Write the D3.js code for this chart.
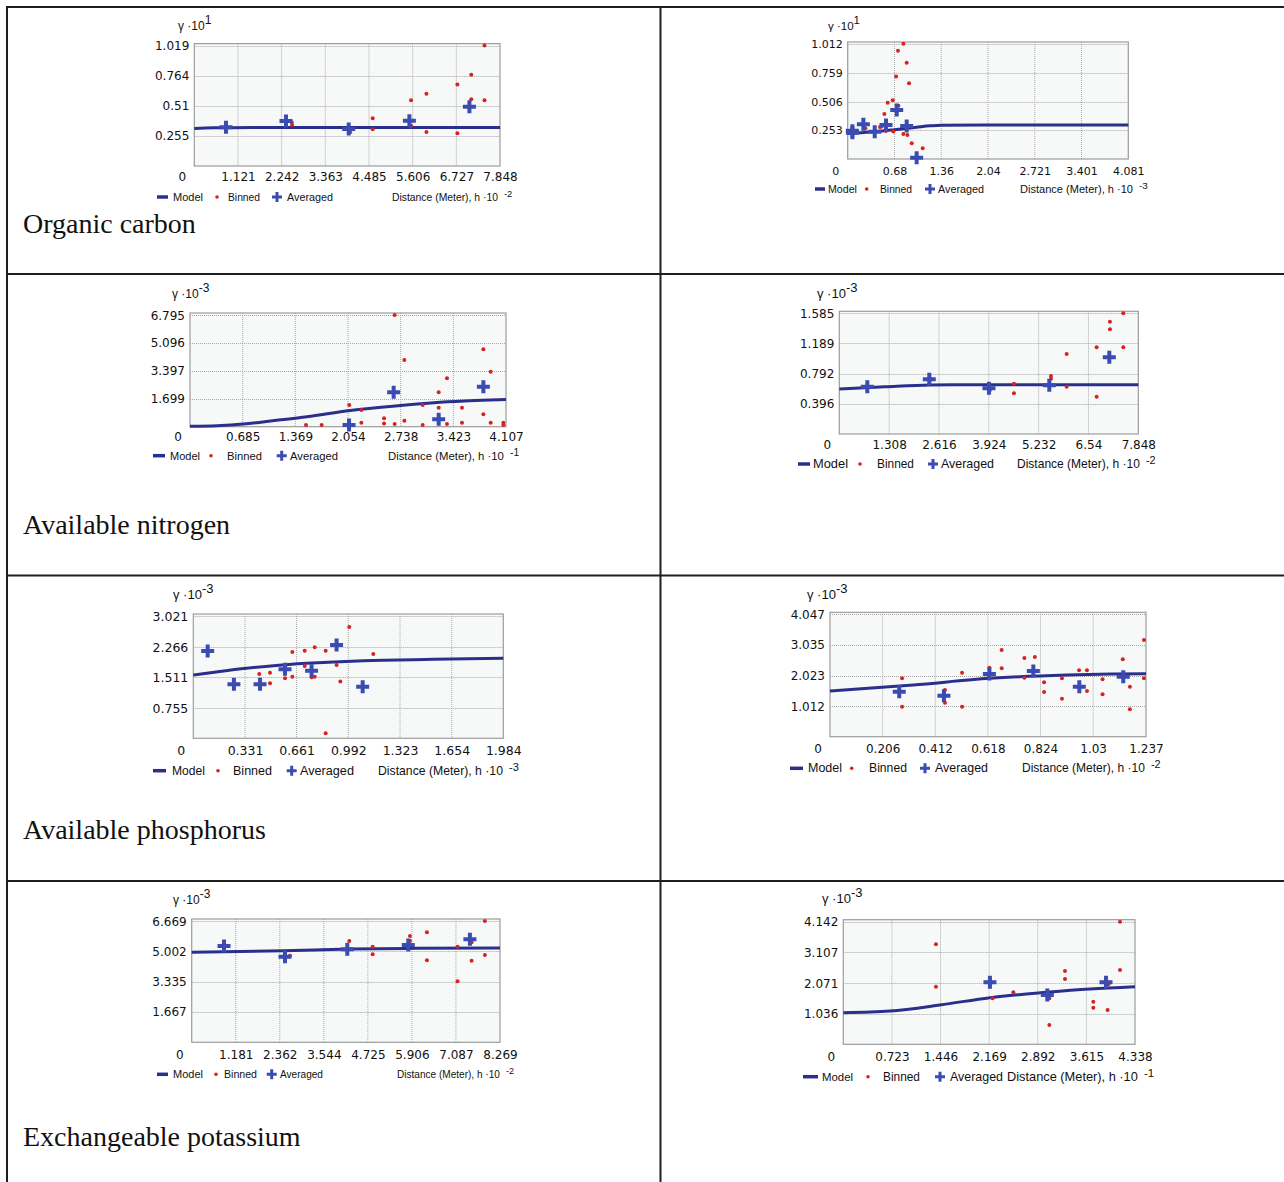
<!DOCTYPE html>
<html><head><meta charset="utf-8">
<script src="https://cdn.jsdelivr.net/npm/d3@7"></script>
<style>
html,body{margin:0;padding:0;background:#fff;}
svg{display:block;}
</style></head>
<body>
<svg id="fig" width="1284" height="1182"></svg>
<script>
// ---------- DATA ----------
const titles = ["Organic carbon", "Available nitrogen", "Available phosphorus", "Exchangeable potassium"];

// Organic carbon (left)
const ocL_xTicks = [1.121, 2.242, 3.363, 4.485, 5.606, 6.727, 7.848];
const ocL_yTicks = [0.255, 0.51, 0.764, 1.019];
const ocL_exp = {y: "1", x: "-2"};
const ocL_model = [[0,0.318],[0.5,0.324],[1.5,0.325],[7.848,0.325]];
const ocL_binned = [[2.51,0.347],[2.5,0.37],[4.0,0.285],[4.58,0.404],[4.58,0.31],[5.565,0.556],[5.565,0.341],[5.96,0.612],[5.96,0.288],[6.755,0.689],[6.755,0.277],[7.11,0.773],[7.11,0.564],[7.45,1.019],[7.45,0.556]];
const ocL_avg = [[0.813,0.327],[2.354,0.381],[3.964,0.313],[5.522,0.384],[7.063,0.502]];

// Organic carbon (right)
const ocR_xTicks = [0.68, 1.36, 2.04, 2.721, 3.401, 4.081];
const ocR_yTicks = [0.253, 0.506, 0.759, 1.012];
const ocR_exp = {y: "1", x: "-3"};
const ocR_model = [[0,0.225],[0.34,0.238],[0.68,0.258],[1.0,0.279],[1.2,0.292],[1.36,0.298],[2.0,0.299],[4.081,0.299]];
const ocR_binned = [[0.257,0.27],[0.47,0.282],[0.494,0.285],[0.533,0.396],[0.557,0.246],[0.582,0.496],[0.655,0.516],[0.664,0.241],[0.703,0.725],[0.732,0.953],[0.737,0.469],[0.81,1.015],[0.81,0.22],[0.858,0.848],[0.868,0.211],[0.892,0.666],[0.931,0.138],[1.091,0.094]];
const ocR_avg = [[0.068,0.249],[0.068,0.232],[0.228,0.305],[0.393,0.24],[0.557,0.299],[0.713,0.431],[0.858,0.29],[1.003,0.012]];

// Available nitrogen (left)
const anL_xTicks = [0.685, 1.369, 2.054, 2.738, 3.423, 4.107];
const anL_yTicks = [1.699, 3.397, 5.096, 6.795];
const anL_exp = {y: "-3", x: "-1"};
const anL_model = [[0,0.02],[0.35,0.06],[0.69,0.16],[1.1,0.38],[1.52,0.61],[2.08,0.98],[2.67,1.26],[3.25,1.48],[3.7,1.59],[4.107,1.66]];
const anL_binned = [[1.508,0.1],[1.711,0.1],[2.07,1.318],[2.227,1.014],[2.227,0.243],[2.522,0.507],[2.522,0.2],[2.66,6.795],[2.66,0.16],[2.786,4.057],[2.786,0.365],[3.024,1.318],[3.024,0.1],[3.232,2.09],[3.232,1.156],[3.34,2.94],[3.34,0.16],[3.535,1.156],[3.535,0.243],[3.813,4.706],[3.813,0.75],[3.908,3.347],[3.908,0.243],[4.073,0.243],[4.073,0.1]];
const anL_avg = [[2.067,0.1],[2.647,2.09],[3.232,0.446],[3.813,2.434]];

// Available nitrogen (right)
const anR_xTicks = [1.308, 2.616, 3.924, 5.232, 6.54, 7.848];
const anR_yTicks = [0.396, 0.792, 1.189, 1.585];
const anR_exp = {y: "-3", x: "-2"};
const anR_model = [[0,0.591],[1.2,0.62],[2.38,0.644],[3.0,0.647],[7.848,0.648]];
const anR_binned = [[2.42,0.718],[3.955,0.578],[4.584,0.661],[4.584,0.534],[5.556,0.762],[5.556,0.727],[5.967,1.051],[5.967,0.622],[6.754,1.138],[6.754,0.49],[7.104,1.475],[7.104,1.375],[7.454,1.585],[7.454,1.138]];
const anR_avg = [[0.735,0.622],[2.362,0.718],[3.928,0.6],[5.512,0.639],[7.087,1.007]];

// Available phosphorus (left)
const apL_xTicks = [0.331, 0.661, 0.992, 1.323, 1.654, 1.984];
const apL_yTicks = [0.755, 1.511, 2.266, 3.021];
const apL_exp = {y: "-3", x: "-3"};
const apL_model = [[0,1.564],[0.17,1.65],[0.34,1.728],[0.53,1.8],[0.725,1.852],[1.088,1.918],[1.536,1.95],[1.984,1.975]];
const apL_binned = [[0.422,1.588],[0.491,1.621],[0.491,1.358],[0.587,1.481],[0.634,2.132],[0.634,1.523],[0.713,2.165],[0.713,1.786],[0.757,1.506],[0.777,2.247],[0.777,1.523],[0.847,2.165],[0.847,0.123],[0.917,1.81],[0.941,1.4],[0.998,2.749],[1.152,2.082]];
const apL_avg = [[0.092,2.156],[0.26,1.333],[0.427,1.333],[0.587,1.704],[0.757,1.671],[0.917,2.305],[1.084,1.276]];

// Available phosphorus (right)
const apR_xTicks = [0.206, 0.412, 0.618, 0.824, 1.03, 1.237];
const apR_yTicks = [1.012, 2.023, 3.035, 4.047];
const apR_exp = {y: "-3", x: "-2"};
const apR_model = [[0,1.51],[0.326,1.709],[0.626,1.929],[0.926,2.04],[1.1,2.07],[1.237,2.084]];
const apR_binned = [[0.282,1.929],[0.282,0.992],[0.45,1.543],[0.45,1.125],[0.517,2.117],[0.517,0.992],[0.624,2.282],[0.672,2.867],[0.672,2.26],[0.761,2.602],[0.761,1.952],[0.802,2.635],[0.838,1.797],[0.838,1.477],[0.908,1.929],[0.908,1.257],[0.975,2.194],[1.006,1.51],[1.006,2.194],[1.067,1.896],[1.067,1.4],[1.146,2.558],[1.174,1.654],[1.174,0.904],[1.229,3.197],[1.229,1.929]];
const apR_avg = [[0.271,1.488],[0.446,1.356],[0.624,2.073],[0.796,2.172],[0.976,1.654],[1.148,1.985]];

// Exchangeable potassium (left)
const ekL_xTicks = [1.181, 2.362, 3.544, 4.725, 5.906, 7.087, 8.269];
const ekL_yTicks = [1.667, 3.335, 5.002, 6.669];
const ekL_exp = {y: "-3", x: "-2"};
const ekL_model = [[0,4.945],[2.458,5.037],[4.245,5.128],[6.0,5.165],[8.269,5.183]];
const ekL_binned = [[2.636,4.762],[4.227,5.568],[4.853,5.256],[4.853,4.835],[5.854,5.842],[5.854,5.568],[6.309,6.044],[6.309,4.505],[7.131,5.256],[7.131,3.352],[7.507,5.495],[7.507,4.487],[7.864,6.667],[7.864,4.799]];
const ekL_avg = [[0.867,5.293],[2.502,4.707],[4.173,5.11],[5.809,5.348],[7.462,5.659]];

// Exchangeable potassium (right)
const ekR_xTicks = [0.723, 1.446, 2.169, 2.892, 3.615, 4.338];
const ekR_yTicks = [1.036, 2.071, 3.107, 4.142];
const ekR_exp = {y: "-3", x: "-1"};
const ekR_model = [[0,1.069],[0.694,1.125],[1.438,1.328],[2.181,1.576],[3.024,1.756],[3.669,1.868],[4.338,1.947]];
const ekR_binned = [[1.378,3.376],[1.378,1.947],[2.221,1.553],[2.529,1.756],[3.064,1.553],[3.064,0.653],[3.297,2.476],[3.297,2.206],[3.718,1.441],[3.718,1.238],[3.931,1.159],[3.941,2.026],[4.115,4.142],[4.115,2.51]];
const ekR_avg = [[2.181,2.093],[3.034,1.666],[3.907,2.093]];

const legendLabels = ["Model", "Binned", "Averaged", "Distance (Meter), h ·10"];

// ---------- LAYOUT (pixel geometry per panel) ----------
const layouts = [
 {L:194.3,R:500,B:166,T:45.6,tickY:177,tfs:12,legY:197,lfs:12,yl:[178,30],
  leg:{line:157,model:[173,30],dot:217,binned:[228,32],plus:277,avg:[287,46],dist:[392,498],lw:11}},
 {L:847.7,R:1128.3,B:159,T:44,tickY:171,tfs:11,legY:189,lfs:11.5,yl:[828,30],
  leg:{line:815,model:[828,29],dot:866.7,binned:[880,32],plus:930,avg:[938,46],dist:[1020,1133],lw:10}},
 {L:190,R:506,B:426.7,T:315,tickY:436.5,tfs:12,legY:455.7,lfs:12,yl:[172,298],
  leg:{line:153,model:[170,30],dot:211,binned:[227,35],plus:281.7,avg:[290,48],dist:[388,504],lw:12}},
 {L:839.3,R:1138.3,B:434,T:313.3,tickY:444.7,tfs:12,legY:464,lfs:13,yl:[817,298],
  leg:{line:798,model:[813,35],dot:860,binned:[877,37],plus:933,avg:[941,53],dist:[1017,1140],lw:12}},
 {L:193.3,R:503.3,B:738.3,T:616,tickY:750.7,tfs:12.5,legY:770.7,lfs:13,yl:[173,599],
  leg:{line:153,model:[172,33],dot:218,binned:[233,39],plus:291.7,avg:[300,54],dist:[378,503],lw:13}},
 {L:830,R:1146,B:736.7,T:614.3,tickY:748.5,tfs:12,legY:768.3,lfs:13,yl:[807,599],
  leg:{line:790,model:[808,34],dot:851.7,binned:[869,38],plus:925,avg:[935,53],dist:[1022,1145],lw:13}},
 {L:191.7,R:500,B:1042.3,T:921,tickY:1054.7,tfs:12,legY:1074.3,lfs:12,yl:[173,904],
  leg:{line:157,model:[173,30],dot:216,binned:[224,33],plus:271.7,avg:[280,43],dist:[397,500],lw:11}},
 {L:843.3,R:1135,B:1044.3,T:921.7,tickY:1056.7,tfs:12,legY:1076.7,lfs:13,yl:[822,903],
  leg:{line:803,model:[822,31],dot:868,binned:[883,37],plus:940,avg:[950,53],dist:[1007,1138],lw:15}}
];

const panelData = [
 {xt:ocL_xTicks,yt:ocL_yTicks,exp:ocL_exp,model:ocL_model,binned:ocL_binned,avg:ocL_avg},
 {xt:ocR_xTicks,yt:ocR_yTicks,exp:ocR_exp,model:ocR_model,binned:ocR_binned,avg:ocR_avg},
 {xt:anL_xTicks,yt:anL_yTicks,exp:anL_exp,model:anL_model,binned:anL_binned,avg:anL_avg},
 {xt:anR_xTicks,yt:anR_yTicks,exp:anR_exp,model:anR_model,binned:anR_binned,avg:anR_avg},
 {xt:apL_xTicks,yt:apL_yTicks,exp:apL_exp,model:apL_model,binned:apL_binned,avg:apL_avg},
 {xt:apR_xTicks,yt:apR_yTicks,exp:apR_exp,model:apR_model,binned:apR_binned,avg:apR_avg},
 {xt:ekL_xTicks,yt:ekL_yTicks,exp:ekL_exp,model:ekL_model,binned:ekL_binned,avg:ekL_avg},
 {xt:ekR_xTicks,yt:ekR_yTicks,exp:ekR_exp,model:ekR_model,binned:ekR_binned,avg:ekR_avg}
];

// ---------- STYLE ----------
const C = {model:"#2b2f8c", avg:"#3a4cb2", binned:"#d62222", frame:"#9c9c9c", grid:"#a8a8a8", bg:"#f7f9f8", text:"#111"};
const tickFont = "'DejaVu Sans', sans-serif";
const legFont = "'Liberation Sans', Arial, sans-serif";

const svg = d3.select("#fig");

// fit a text's natural width to a target width by adjusting its font size
function fitWidth(sel, fs, width) {
  sel.attr("font-size", fs);
  const w = sel.node().getComputedTextLength();
  if (w > 0) sel.attr("font-size", (fs * width / w).toFixed(2));
  return sel;
}

// ---------- TABLE ----------
const tbl = svg.append("g").attr("stroke","#1e1e1e").attr("stroke-width",2);
tbl.append("line").attr("x1",6).attr("x2",1284).attr("y1",7).attr("y2",7);
tbl.append("line").attr("x1",7).attr("x2",7).attr("y1",6).attr("y2",1182);
tbl.append("line").attr("x1",660.5).attr("x2",660.5).attr("y1",6).attr("y2",1182);
[274, 575.5, 881].forEach(y => tbl.append("line").attr("x1",6).attr("x2",1284).attr("y1",y).attr("y2",y));

const titleY = [233, 534, 839, 1146];
titles.forEach((t,i) => svg.append("text").attr("x",23).attr("y",titleY[i])
  .attr("font-family","'Liberation Serif','Times New Roman',serif").attr("font-size",28)
  .attr("fill","#111").text(t));

// ---------- PANELS ----------
panelData.forEach((d,i) => {
  const g = layouts[i];
  const x = d3.scaleLinear().domain([0, d.xt[d.xt.length-1]]).range([g.L, g.R]);
  const y = d3.scaleLinear().domain([0, d.yt[d.yt.length-1]]).range([g.B, g.T]);
  const top = g.T - 2;
  const p = svg.append("g");

  p.append("rect").attr("x",g.L).attr("y",top).attr("width",g.R-g.L).attr("height",g.B-top)
    .attr("fill",C.bg).attr("stroke","none");

  // grid lines
  p.append("g").selectAll("line").data(d.xt.slice(0,-1)).join("line")
    .attr("x1",v=>x(v)).attr("x2",v=>x(v)).attr("y1",top).attr("y2",g.B)
    .attr("stroke",C.grid).attr("stroke-width",1).attr("stroke-dasharray","1,1");
  p.append("g").selectAll("line").data(d.yt).join("line")
    .attr("x1",g.L).attr("x2",g.R).attr("y1",v=>Math.round(y(v))+0.5).attr("y2",v=>Math.round(y(v))+0.5)
    .attr("stroke",C.grid).attr("stroke-width",1).attr("stroke-dasharray","1,1");

  p.append("rect").attr("x",g.L).attr("y",top).attr("width",g.R-g.L).attr("height",g.B-top)
    .attr("fill","none").attr("stroke",C.frame).attr("stroke-width",1.2);

  // axes (labels only, as in the original software)
  const xAxis = d3.axisBottom(x).tickValues(d.xt).tickSize(0).tickFormat(v=>String(v));
  const xa = p.append("g").attr("transform",`translate(0,${g.tickY})`).call(xAxis);
  xa.select(".domain").remove();
  xa.selectAll("text").attr("dy",0).attr("y",0).attr("dominant-baseline","central")
    .attr("font-family",tickFont).attr("font-size",g.tfs).attr("fill",C.text);
  const yAxis = d3.axisLeft(y).tickValues(d.yt).tickSize(0).tickPadding(5).tickFormat(v=>String(v));
  const ya = p.append("g").attr("transform",`translate(${g.L},0)`).call(yAxis);
  ya.select(".domain").remove();
  ya.selectAll("text").attr("dy",0).attr("dominant-baseline","central")
    .attr("font-family",tickFont).attr("font-size",g.tfs).attr("fill",C.text);
  p.append("text").attr("x",g.L-12).attr("y",g.tickY).attr("dominant-baseline","central")
    .attr("text-anchor","middle").attr("font-family",tickFont).attr("font-size",g.tfs).attr("fill",C.text).text("0");

  // y label
  const yl = p.append("text").attr("x",g.yl[0]).attr("y",g.yl[1])
    .attr("font-family",legFont).attr("font-size",g.lfs).attr("fill",C.text);
  yl.append("tspan").text("γ ·10");
  yl.append("tspan").attr("dy",-6).attr("font-size",g.lfs).text(d.exp.y);

  // model
  const line = d3.line().x(v=>x(v[0])).y(v=>y(v[1])).curve(d3.curveMonotoneX);
  p.append("path").datum(d.model).attr("d",line).attr("fill","none")
    .attr("stroke",C.model).attr("stroke-width",3);

  // binned
  p.append("g").selectAll("circle").data(d.binned).join("circle")
    .attr("cx",v=>x(v[0])).attr("cy",v=>y(v[1])).attr("r",2).attr("fill",C.binned);

  // averaged
  const s = 6.5;
  p.append("g").selectAll("path").data(d.avg).join("path")
    .attr("d",v=>`M${x(v[0])-s},${y(v[1])}H${x(v[0])+s}M${x(v[0])},${y(v[1])-s}V${y(v[1])+s}`)
    .attr("stroke",C.avg).attr("stroke-width",4).attr("fill","none");

  // legend
  const lg = g.leg, ly = g.legY;
  p.append("line").attr("x1",lg.line).attr("x2",lg.line+lg.lw).attr("y1",ly).attr("y2",ly)
    .attr("stroke",C.model).attr("stroke-width",3.5);
  const lt = (pos, txt) => fitWidth(p.append("text").attr("x",pos[0]).attr("y",ly+4)
    .attr("font-family",legFont).attr("fill",C.text).text(txt), g.lfs, pos[1]);
  lt(lg.model, legendLabels[0]);
  p.append("circle").attr("cx",lg.dot).attr("cy",ly).attr("r",1.8).attr("fill",C.binned);
  lt(lg.binned, legendLabels[1]);
  const ps = 5;
  p.append("path").attr("d",`M${lg.plus-ps},${ly}H${lg.plus+ps}M${lg.plus},${ly-ps}V${ly+ps}`)
    .attr("stroke",C.avg).attr("stroke-width",3).attr("fill","none");
  lt(lg.avg, legendLabels[2]);
  const dt = lt([lg.dist[0], lg.dist[1]-lg.dist[0]], legendLabels[3]);
  const dfs = +dt.attr("font-size");
  p.append("text").attr("x",lg.dist[1]+6).attr("y",ly).attr("font-family",legFont)
    .attr("font-size",(dfs*0.9).toFixed(2)).attr("fill",C.text).text(d.exp.x);
});
</script>
</body></html>
